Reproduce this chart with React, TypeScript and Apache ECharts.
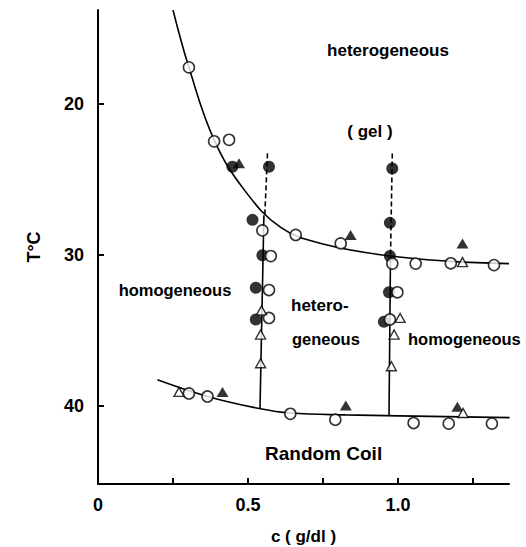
import React, { useEffect, useRef } from "react";
import * as echarts from "echarts";

// c (g/dl), T (°C)
const upperCurve: [number, number][] = [
  [0.25, 13.8], [0.303, 17.6], [0.387, 22.4], [0.487, 25.7], [0.609, 28.2],
  [0.75, 29.3], [0.975, 30.1], [1.175, 30.45], [1.37, 30.6],
];
const lowerCurve: [number, number][] = [
  [0.198, 38.3], [0.365, 39.4], [0.537, 40.2], [0.641, 40.5], [0.825, 40.62], [1.372, 40.8],
];
const dashedLeft: [number, number][] = [[0.565, 23.3], [0.556, 27.4]];
const solidLeft: [number, number][] = [[0.553, 27.4], [0.54, 40.2]];
const dashedRight: [number, number][] = [[0.981, 23.3], [0.975, 30.1]];
const solidRight: [number, number][] = [[0.975, 30.1], [0.97, 40.68]];

const openCircles: [number, number][] = [
  [0.303, 17.6], [0.387, 22.5], [0.437, 22.4], [0.548, 28.4], [0.659, 28.7],
  [0.576, 30.1], [0.57, 32.35], [0.57, 34.2], [0.809, 29.26], [0.981, 30.6],
  [1.059, 30.6], [1.176, 30.58], [1.32, 30.7], [0.998, 32.5], [0.973, 34.3],
  [0.303, 39.2], [0.365, 39.4], [0.641, 40.55], [0.791, 40.94], [1.052, 41.16],
  [1.169, 41.2], [1.313, 41.2],
];
const filledCircles: [number, number][] = [
  [0.448, 24.18], [0.57, 24.18], [0.515, 27.7], [0.548, 30.05], [0.526, 32.2],
  [0.526, 34.3], [0.981, 24.3], [0.973, 27.9], [0.973, 30.1], [0.97, 32.5], [0.953, 34.45],
];
const filledTriangles: [number, number][] = [
  [0.47, 23.96], [0.842, 28.7], [1.215, 29.26], [0.415, 39.1], [0.826, 40.0], [1.198, 40.08],
];
const openTriangles: [number, number][] = [
  [0.545, 33.7], [0.542, 35.3], [0.542, 37.2], [1.007, 34.2], [0.987, 35.3],
  [0.978, 37.4], [1.215, 30.5], [0.27, 39.1], [1.217, 40.5],
];

const xTicks = [0.25, 0.5, 0.75, 1.0, 1.25];
const xLabels = [0, 0.5, 1.0];
const yTicks = [20, 30, 40];

const FONT = "'Liberation Sans', Arial, Helvetica, sans-serif";

export default function App() {
  const ref = useRef<HTMLDivElement>(null);
  useEffect(() => {
    if (!ref.current) return;
    const chart = echarts.init(ref.current, undefined, { renderer: "svg" });
    const lineS = (data: [number, number][], dashed = false, smooth = false) => ({
      type: "line",
      data,
      symbol: "none",
      smooth: smooth ? 0.4 : false,
      lineStyle: { color: "#000", width: 1.6, type: dashed ? [5, 3] : "solid" },
      z: 2,
    });
    const txt = (text: string, x: number, y: number, size = 17, align = "center") => ({
      type: "text",
      x,
      y,
      style: {
        text,
        fill: "#000",
        fontSize: size,
        fontWeight: "bold",
        fontFamily: FONT,
        align,
        verticalAlign: "middle",
      },
    });
    chart.setOption({
      animation: false,
      backgroundColor: "#fff",
      grid: { left: 98, right: 17, top: 10, bottom: 63, outerBoundsMode: "none" },
      xAxis: {
        type: "value",
        min: 0,
        max: 1.37,
        name: "c ( g/dl )",
        nameLocation: "middle",
        nameGap: 44,
        nameTextStyle: { color: "#000", fontSize: 17, fontWeight: "bold", fontFamily: FONT },
        axisLine: { lineStyle: { color: "#000", width: 2 } },
        axisTick: { inside: true, length: 6, customValues: xTicks, lineStyle: { color: "#000", width: 2 } },
        axisLabel: {
          customValues: xLabels,
          formatter: (v: number) => (v === 0 ? "0" : v.toFixed(1)),
          margin: 12,
          color: "#000",
          fontSize: 18,
          fontWeight: "bold",
          fontFamily: FONT,
        },
        splitLine: { show: false },
      },
      yAxis: {
        type: "value",
        inverse: true,
        min: 13.8,
        max: 45.2,
        name: "T°C",
        nameLocation: "middle",
        nameRotate: 90,
        nameGap: 55,
        nameTextStyle: { color: "#000", fontSize: 18, fontWeight: "bold", fontFamily: FONT },
        axisLine: { lineStyle: { color: "#000", width: 2 } },
        axisTick: { inside: true, length: 6, customValues: yTicks, lineStyle: { color: "#000", width: 2 } },
        axisLabel: {
          customValues: yTicks,
          margin: 14,
          color: "#000",
          fontSize: 18,
          fontWeight: "bold",
          fontFamily: FONT,
        },
        splitLine: { show: false },
      },
      series: [
        lineS(upperCurve, false, true),
        lineS(lowerCurve, false, true),
        lineS(dashedLeft, true),
        lineS(solidLeft),
        lineS(dashedRight, true),
        lineS(solidRight),
        {
          type: "scatter",
          data: filledCircles,
          symbol: "circle",
          symbolSize: 12,
          itemStyle: { color: "#000" },
          z: 3,
        },
        {
          type: "scatter",
          data: filledTriangles,
          symbol: "triangle",
          symbolSize: [12, 10],
          itemStyle: { color: "#000" },
          z: 3,
        },
        {
          type: "scatter",
          data: openCircles,
          symbol: "circle",
          symbolSize: 11,
          itemStyle: { color: "#fff", borderColor: "#000", borderWidth: 1.6 },
          z: 4,
        },
        {
          type: "scatter",
          data: openTriangles,
          symbol: "triangle",
          symbolSize: [10, 9],
          itemStyle: { color: "#fff", borderColor: "#000", borderWidth: 1.4 },
          z: 4,
        },
      ],
      graphic: [
        txt("heterogeneous", 388, 50.5),
        txt("( gel )", 370, 131),
        txt("homogeneous", 175, 289.5, 16.5),
        txt("hetero-", 291, 305, 17, "left"),
        txt("geneous", 292, 338.5, 16.5, "left"),
        txt("homogeneous", 408, 338.5, 16.5, "left"),
        txt("Random Coil", 265, 453, 19, "left"),
      ],
    });
    return () => chart.dispose();
  }, []);
  return (
    <div
      ref={ref}
      style={{ position: "fixed", left: 0, top: 0, width: 526, height: 547, background: "#fff" }}
    />
  );
}
